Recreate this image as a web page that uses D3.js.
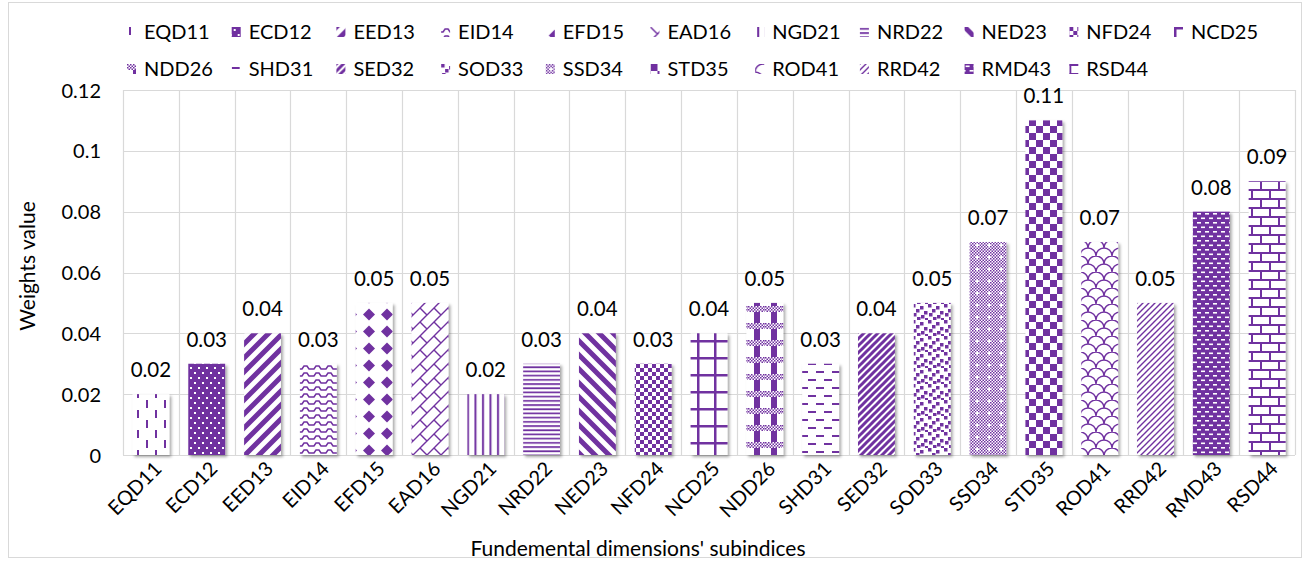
<!DOCTYPE html>
<html><head><meta charset="utf-8">
<script src="https://cdn.jsdelivr.net/npm/d3@7"></script>
<style>
body{margin:0;background:#fff;}
text{font-family:Lato,"Open Sans",sans-serif;fill:#000;}
</style>
</head><body>
<svg id="chart" width="1305" height="561"></svg>
<script>
const categories = ["EQD11","ECD12","EED13","EID14","EFD15","EAD16","NGD21","NRD22","NED23","NFD24","NCD25","NDD26","SHD31","SED32","SOD33","SSD34","STD35","ROD41","RRD42","RMD43","RSD44"];
const weights = [0.02,0.03,0.04,0.03,0.05,0.05,0.02,0.03,0.04,0.03,0.04,0.05,0.03,0.04,0.05,0.07,0.11,0.07,0.05,0.08,0.09];
const valueLabels = ["0.02","0.03","0.04","0.03","0.05","0.05","0.02","0.03","0.04","0.03","0.04","0.05","0.03","0.04","0.05","0.07","0.11","0.07","0.05","0.08","0.09"];
const yTicks = [0,0.02,0.04,0.06,0.08,0.1,0.12];
const yTickLabels = ["0","0.02","0.04","0.06","0.08","0.1","0.12"];
const patternKinds = ["dashVert","dotsOnFill","wdUpDiag","wave","solidDmnd","diagBrick","ltVert","ltHorz","wdDnDiag","smCheck","lgGrid","plaid","dashHorz","dkUpDiag","lgConfetti","dotChecker","lgCheck","shingle","ltUpDiag","dashesOnFill","horzBrick"];
const legendRows = [categories.slice(0,11), categories.slice(11)];
const yTitle = "Weights value";
const xTitle = "Fundemental dimensions' subindices";

const C = "#7030A0";
const svg = d3.select("#chart");
const defs = svg.append("defs");

const f = defs.append("filter").attr("id","shadow").attr("x","-20%").attr("y","-20%").attr("width","150%").attr("height","150%");
f.append("feDropShadow").attr("dx",2).attr("dy",2).attr("stdDeviation",1.6).attr("flood-color","#000").attr("flood-opacity",0.35);

function pat(id, w, h, bg){
  const p = defs.append("pattern").attr("id",id).attr("patternUnits","userSpaceOnUse").attr("width",w).attr("height",h);
  p.append("rect").attr("width",w).attr("height",h).attr("fill",bg);
  return p;
}
function r(p,x,y,w,h,c){ p.append("rect").attr("x",x).attr("y",y).attr("width",w).attr("height",h).attr("fill",c||C); }
function ln(p,d,sw){ p.append("path").attr("d",d).attr("stroke",C).attr("stroke-width",sw).attr("fill","none"); }
function diag(p,s,sw,up){
  const d = up
    ? `M${-s},${s} L${s},${-s} M0,${s} L${s},0 M0,${2*s} L${2*s},0`
    : `M0,0 L${s},${s} M${-s},0 L${s},${2*s} M0,${-s} L${2*s},${s}`;
  ln(p,d,sw);
}
const builders = {
  dashVert(id){ const p=pat(id,18,20,"#fff"); r(p,2,0,2,8); r(p,11,10,2,8); },
  dotsOnFill(id){ const p=pat(id,8,10,C); r(p,2,2,2,2,"#fff"); r(p,6,7,2,2,"#fff"); },
  wdUpDiag(id){ const p=pat(id,14,14,"#fff"); diag(p,14,5,true); },
  wave(id){ const p=pat(id,12,7,"#fff"); ln(p,"M0,5 L2,5 L4,2 L7,2 L9,5 L12,5",1.5); },
  solidDmnd(id){ const p=pat(id,18,17,"#fff"); p.append("path").attr("d","M9,2.5 L15,8.5 L9,14.5 L3,8.5 Z").attr("fill",C); },
  diagBrick(id){ const p=pat(id,14,14,"#fff"); ln(p,"M-7,7 L7,-7 M0,14 L14,0 M7,21 L21,7 M0,0 L7,7",1.4); },
  ltVert(id){ const p=pat(id,7.5,4,"#fff"); r(p,2,0,2,4); },
  ltHorz(id){ const p=pat(id,4,4.2,"#fff"); r(p,0,1,4,1.7); },
  wdDnDiag(id){ const p=pat(id,14,14,"#fff"); diag(p,14,5,false); },
  smCheck(id){ const p=pat(id,8,8,"#fff"); r(p,0,0,4,4); r(p,4,4,4,4); },
  lgGrid(id){ const p=pat(id,17,17,"#fff"); r(p,0,0,17,2.5); r(p,0,0,2.5,17); },
  plaid(id){ const p=pat(id,17,17,"#fff");
    for(let i=0;i<12;i++) for(let j=0;j<4;j++) if((i+j)%2===0) r(p,i*1.5,j*1.5,1.5,1.5);
    r(p,6,6,6,11); },
  dashHorz(id){ const p=pat(id,16,16,"#fff"); r(p,0,3,8,2); r(p,8,11,8,2); },
  dkUpDiag(id){ const p=pat(id,7,7,"#fff"); diag(p,7,3,true); },
  lgConfetti(id){ const p=pat(id,16,16,"#fff");
    [[0,0],[8,2],[4,5],[12,7],[1,9],[9,11],[5,13],[13,14]].forEach(([x,y])=>r(p,x,y,3.5,3.5)); },
  dotChecker(id){ const p=pat(id,12,12,"#fff");
    for(let i=0;i<8;i++) for(let j=0;j<8;j++) if((i+j)%2===0) r(p,i*1.5,j*1.5,1.5,1.5);
    r(p,4.5,3,1.5,4.5,"#fff"); r(p,3,4.5,4.5,1.5,"#fff"); },
  lgCheck(id){ const p=pat(id,14,14,"#fff"); r(p,0,0,7,7); r(p,7,7,7,7); },
  shingle(id){ const p=pat(id,16,16,"#fff");
    ln(p,"M0,8 A8,8 0 0 1 16,8 M-8,16 A8,8 0 0 1 8,16 M8,16 A8,8 0 0 1 24,16 M-8,0 A8,8 0 0 1 8,0 M8,0 A8,8 0 0 1 24,0",1.4); },
  ltUpDiag(id){ const p=pat(id,6,6,"#fff"); diag(p,6,1.4,true); },
  dashesOnFill(id){ const p=pat(id,8,9,C); r(p,1,1.5,4,1.6,"#fff"); r(p,5,6,3,1.6,"#fff"); r(p,0,6,1,1.6,"#fff"); },
  horzBrick(id){ const p=pat(id,18,18,"#fff"); r(p,0,0,18,2); r(p,0,9,18,2); r(p,0,0,2,9); r(p,9,9,2,9); }
};
patternKinds.forEach((k,i)=>builders[k]("pat"+i));

// frame
svg.append("rect").attr("x",8.5).attr("y",2.5).attr("width",1293).attr("height",555)
  .attr("fill","#fff").attr("stroke","#d9d9d9").attr("stroke-width",1);

const x = d3.scaleBand().domain(categories).range([123,1295]).paddingInner(0.34).paddingOuter(0.17);
const y = d3.scaleLinear().domain([0,0.12]).range([455,90]);
const step = x.step();

// grid
const grid = svg.append("g");
grid.selectAll("line.h").data(yTicks).join("line")
  .attr("x1",123).attr("x2",1295).attr("y1",d=>Math.round(y(d))+0.5).attr("y2",d=>Math.round(y(d))+0.5)
  .attr("stroke","#d9d9d9").attr("stroke-width",1.2);
const bounds = categories.map(c=>x(c)-step*0.17).concat([x(categories[categories.length-1])+x.bandwidth()+step*0.17]);
grid.selectAll("line.v").data(bounds).join("line")
  .attr("x1",d=>Math.round(d)+0.5).attr("x2",d=>Math.round(d)+0.5).attr("y1",y(0.12)).attr("y2",y(0))
  .attr("stroke","#d9d9d9").attr("stroke-width",1.2);

// y axis labels
const yAxis = d3.axisLeft(y).tickValues(yTicks).tickFormat((d,i)=>yTickLabels[i]).tickSize(0).tickPadding(0);
const ya = svg.append("g").attr("transform","translate(101,0)").call(yAxis);
ya.select(".domain").remove();
ya.selectAll("text").style("font-family","Lato,sans-serif").style("font-size","20px").attr("fill","#000").attr("dy","0.35em");

// bars
svg.append("g").attr("filter","url(#shadow)")
  .selectAll("rect").data(categories).join("rect")
  .attr("x",d=>x(d)).attr("width",x.bandwidth())
  .attr("y",(d,i)=>y(weights[i])).attr("height",(d,i)=>y(0)-y(weights[i]))
  .attr("fill",(d,i)=>`url(#pat${i})`);

// value labels
svg.append("g").selectAll("text").data(categories).join("text")
  .attr("x",d=>x(d)+x.bandwidth()/2).attr("y",(d,i)=>y(weights[i])-17)
  .attr("text-anchor","middle").style("font-size","20.5px")
  .text((d,i)=>valueLabels[i]);

// x axis labels
const xAxis = d3.axisBottom(x).tickSize(0).tickPadding(0);
const xa = svg.append("g").attr("transform","translate(0,455)").call(xAxis);
xa.select(".domain").remove();
xa.selectAll("text").style("font-family","Lato,sans-serif").style("font-size","20px").attr("fill","#000")
  .attr("text-anchor","end").attr("dy",null).attr("y",0)
  .attr("transform","translate(12,15) rotate(-45)");

// axis titles
svg.append("text").attr("transform","translate(35,266) rotate(-90)").attr("text-anchor","middle")
  .style("font-size","21px").text(yTitle);
svg.append("text").attr("x",638).attr("y",556).attr("text-anchor","middle")
  .style("font-size","21px").text(xTitle);

// legend
const lg = svg.append("g");
legendRows.forEach((row,ri)=>{
  row.forEach((name,ci)=>{
    const idx = categories.indexOf(name);
    const gx = 127 + ci*104.7, gy = ri===0 ? 32 : 69;
    const g = lg.append("g").attr("transform",`translate(${gx},${gy-5})`);
    g.append("rect").attr("x",0).attr("y",0).attr("width",9).attr("height",10).attr("fill",`url(#pat${idx})`);
    g.append("text").attr("x",17).attr("y",5).attr("dy","0.35em").style("font-size","20px").text(name);
  });
});
</script>
</body></html>
